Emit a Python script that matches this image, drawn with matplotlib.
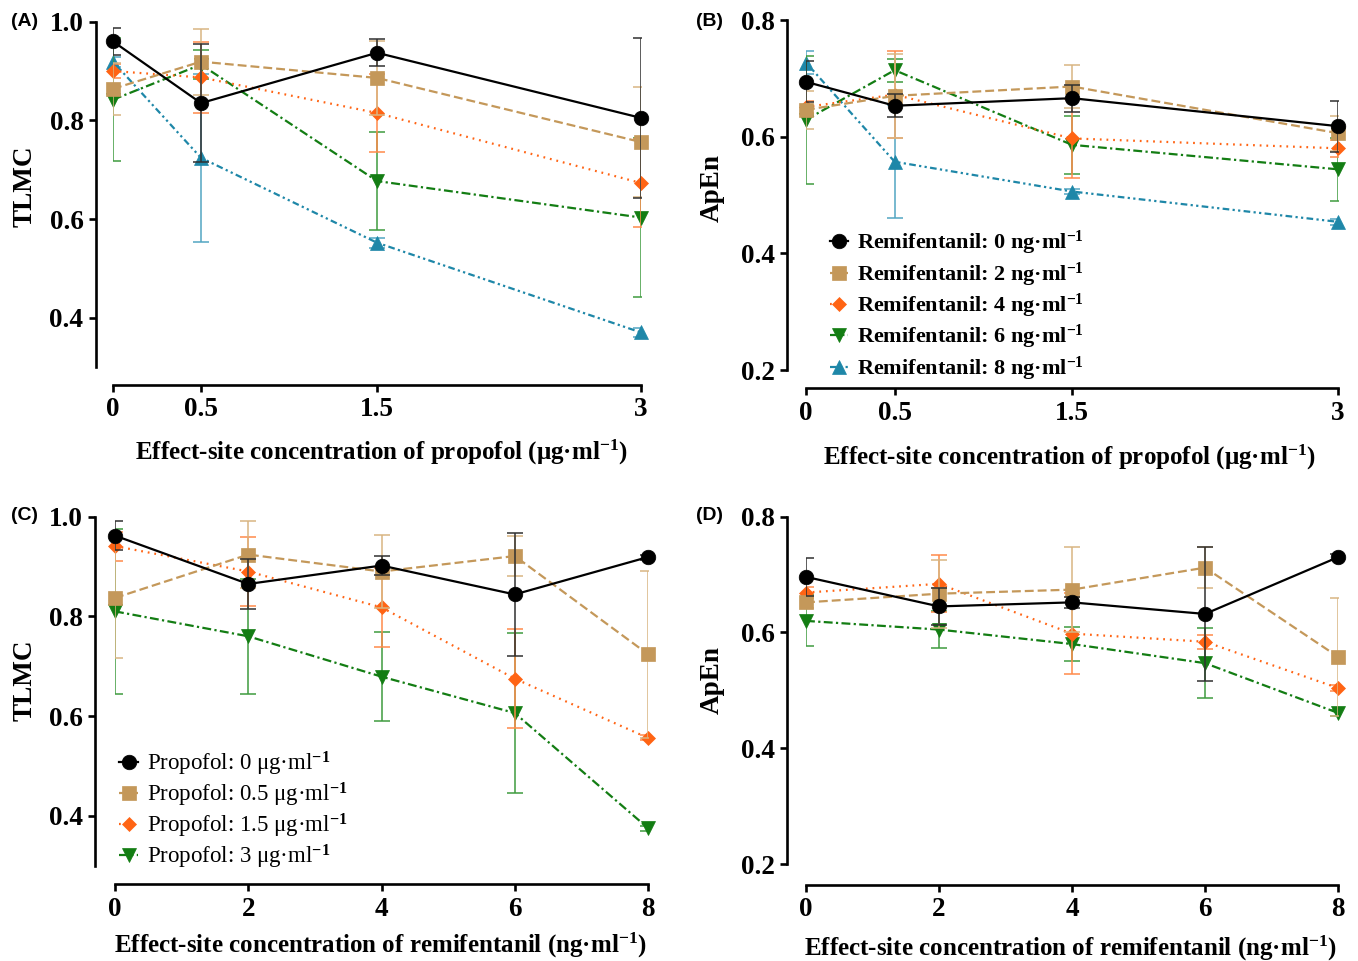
import numpy as np
import matplotlib
matplotlib.use('Agg')
import matplotlib.pyplot as plt

plt.rcParams['font.family'] = ['Liberation Serif', 'DejaVu Serif']
plt.rcParams['font.weight'] = 'bold'
plt.rcParams['mathtext.fontset'] = 'custom'
plt.rcParams['mathtext.rm'] = 'Liberation Serif:bold'
plt.rcParams['mathtext.bf'] = 'Liberation Serif:bold'
plt.rcParams['mathtext.default'] = 'rm'

# x values
propofol = [0, 0.5, 1.5, 3]
remifentanil = [0, 2, 4, 6, 8]

# (A) TLMC vs propofol, one series per remifentanil level
tlmc_r0 = [0.960, 0.835, 0.937, 0.805]
tlmc_r2 = [0.864, 0.919, 0.886, 0.756]
tlmc_r4 = [0.900, 0.887, 0.815, 0.673]
tlmc_r6 = [0.842, 0.913, 0.677, 0.603]
tlmc_r8 = [0.919, 0.724, 0.552, 0.370]
tlmc_r0_sd = [0.027, 0.119, 0.027, 0.162]
tlmc_r2_sd = [0.053, 0.067, 0.075, 0.111]
tlmc_r4_sd = [0.015, 0.072, 0.079, 0.089]
tlmc_r6_sd = [0.125, 0.030, 0.099, 0.162]
tlmc_r8_sd = [0.010, 0.170, 0.010, 0.010]

# (B) ApEn vs propofol
apen_r0 = [0.694, 0.653, 0.666, 0.618]
apen_r2 = [0.646, 0.670, 0.686, 0.606]
apen_r4 = [0.651, 0.672, 0.597, 0.580]
apen_r6 = [0.629, 0.714, 0.586, 0.544]
apen_r8 = [0.727, 0.557, 0.506, 0.454]
apen_r0_sd = [0.035, 0.020, 0.023, 0.044]
apen_r2_sd = [0.032, 0.072, 0.037, 0.030]
apen_r4_sd = [0.010, 0.075, 0.068, 0.015]
apen_r6_sd = [0.110, 0.020, 0.050, 0.054]
apen_r8_sd = [0.020, 0.097, 0.005, 0.005]

# (C) TLMC vs remifentanil, one series per propofol level
tlmc_p0 = [0.962, 0.865, 0.902, 0.844, 0.919]
tlmc_p05 = [0.837, 0.924, 0.890, 0.921, 0.724]
tlmc_p15 = [0.941, 0.890, 0.818, 0.675, 0.556]
tlmc_p3 = [0.810, 0.760, 0.679, 0.606, 0.375]
tlmc_p0_sd = [0.029, 0.051, 0.020, 0.124, 0.005]
tlmc_p05_sd = [0.121, 0.067, 0.074, 0.040, 0.168]
tlmc_p15_sd = [0.029, 0.070, 0.080, 0.099, 0.005]
tlmc_p3_sd = [0.165, 0.115, 0.090, 0.160, 0.005]

# (D) ApEn vs remifentanil
apen_p0 = [0.696, 0.645, 0.652, 0.632, 0.730]
apen_p05 = [0.652, 0.667, 0.674, 0.712, 0.558]
apen_p15 = [0.669, 0.684, 0.598, 0.584, 0.504]
apen_p3 = [0.620, 0.605, 0.580, 0.547, 0.461]
apen_p0_sd = [0.033, 0.032, 0.010, 0.116, 0.005]
apen_p05_sd = [0.010, 0.059, 0.074, 0.036, 0.102]
apen_p15_sd = [0.010, 0.049, 0.070, 0.012, 0.005]
apen_p3_sd = [0.044, 0.032, 0.029, 0.060, 0.005]

remi_labels = ['Remifentanil: 0 ng·ml$^{-1}$', 'Remifentanil: 2 ng·ml$^{-1}$',
               'Remifentanil: 4 ng·ml$^{-1}$', 'Remifentanil: 6 ng·ml$^{-1}$',
               'Remifentanil: 8 ng·ml$^{-1}$']
prop_labels = ['Propofol: 0 μg·ml$^{-1}$', 'Propofol: 0.5 μg·ml$^{-1}$',
               'Propofol: 1.5 μg·ml$^{-1}$', 'Propofol: 3 μg·ml$^{-1}$']

colors = ['#000000', '#C4985A', '#FF6414', '#137D13', '#1E87A8']
err_colors = ['#303030', '#D8B582', '#FF8A4A', '#3F9B3F', '#52A6C2']
markers = ['o', 's', 'D', 'v', '^']
msizes = [10.5, 10.5, 7.2, 10, 10]
styles = ['-', (0, (4, 1.8)), (0, (0.8, 2.2)), (0, (4, 1.5, 1, 1.5)),
          (0, (3, 1.5, 1, 1.5, 1, 1.5))]

W, H = 1358, 961
fig = plt.figure(figsize=(W / 100, H / 100), dpi=100)


def rect(l, t, r, b):
    return [l / W, 1 - b / H, (r - l) / W, (b - t) / H]


def draw(ax, x, means, sds, labels):
    n = len(means)
    for i in reversed(range(n)):
        z = 2 + (n - i) * 2
        ax.errorbar(x, means[i], yerr=sds[i], fmt='none', ecolor=err_colors[i],
                    elinewidth=1.1, capsize=5.5, capthick=1.1, zorder=z)
        ax.plot(x, means[i], color=colors[i], ls=styles[i], lw=1.6,
                marker=markers[i], ms=msizes[i], mec=colors[i], mew=0.5,
                label=labels[i], clip_on=False, zorder=z + 1)


def style(ax, xlim, ylim, xticks, xticklabels, yticks, left_out, bottom_out):
    ax.set_xlim(xlim)
    ax.set_ylim(ylim)
    ax.set_xticks(xticks)
    ax.set_xticklabels(xticklabels)
    ax.set_yticks(yticks)
    ax.set_yticklabels(['%.1f' % t for t in yticks])
    for s in ['top', 'right']:
        ax.spines[s].set_visible(False)
    ax.spines['left'].set_position(('outward', left_out * 0.72))
    ax.spines['bottom'].set_position(('outward', bottom_out * 0.72))
    ax.spines['left'].set_linewidth(1.9)
    ax.spines['bottom'].set_linewidth(1.9)
    ax.tick_params(width=1.9, length=5, labelsize=19.5, pad=4)
    for lab in ax.get_xticklabels() + ax.get_yticklabels():
        lab.set_fontweight('bold')


def labels(ax, xlabel, xpos, ylabel, ypos):
    ax.set_xlabel(xlabel, fontsize=18, fontweight='bold')
    ax.xaxis.set_label_coords(xpos[0] / W, 1 - xpos[1] / H, transform=fig.transFigure)
    ax.xaxis.label.set_va('center')
    ax.set_ylabel(ylabel, fontsize=19.5, fontweight='bold')
    ax.yaxis.set_label_coords(ypos[0] / W, 1 - ypos[1] / H, transform=fig.transFigure)
    ax.yaxis.label.set_va('center')


# (A)
axA = fig.add_axes(rect(113, 21.7, 641, 367))
draw(axA, propofol, [tlmc_r0, tlmc_r2, tlmc_r4, tlmc_r6, tlmc_r8],
     [tlmc_r0_sd, tlmc_r2_sd, tlmc_r4_sd, tlmc_r6_sd, tlmc_r8_sd], remi_labels)
style(axA, (0, 3), (0.3, 1.0), propofol, ['0', '0.5', '1.5', '3'],
      [0.4, 0.6, 0.8, 1.0], 17, 18)
labels(axA, 'Effect-site concentration of propofol (μg·ml$^{-1}$)', (381, 452),
       'TLMC', (25, 186))

# (B)
axB = fig.add_axes(rect(806, 20, 1338, 370))
draw(axB, propofol, [apen_r0, apen_r2, apen_r4, apen_r6, apen_r8],
     [apen_r0_sd, apen_r2_sd, apen_r4_sd, apen_r6_sd, apen_r8_sd], remi_labels)
style(axB, (0, 3), (0.2, 0.8), propofol, ['0', '0.5', '1.5', '3'],
      [0.2, 0.4, 0.6, 0.8], 19, 18)
labels(axB, 'Effect-site concentration of propofol (μg·ml$^{-1}$)', (1069, 457),
       'ApEn', (712, 188))
h, l = axB.get_legend_handles_labels()
axB.legend(h[::-1], l[::-1], loc='upper left', bbox_to_anchor=(819 / W, 1 - 218 / H),
           bbox_transform=fig.transFigure, frameon=False, borderpad=0,
           handlelength=0.8, handletextpad=0.4, labelspacing=0.14, numpoints=1,
           prop={'family': ['Liberation Serif', 'DejaVu Serif'], 'weight': 'bold', 'size': 16})

# (C)
axC = fig.add_axes(rect(115, 516.7, 648, 865.5))
draw(axC, remifentanil, [tlmc_p0, tlmc_p05, tlmc_p15, tlmc_p3],
     [tlmc_p0_sd, tlmc_p05_sd, tlmc_p15_sd, tlmc_p3_sd], prop_labels)
style(axC, (0, 8), (0.3, 1.0), remifentanil, ['0', '2', '4', '6', '8'],
      [0.4, 0.6, 0.8, 1.0], 20, 18.5)
labels(axC, 'Effect-site concentration of remifentanil (ng·ml$^{-1}$)', (380, 945),
       'TLMC', (25, 680))
h, l = axC.get_legend_handles_labels()
axC.legend(h[::-1], l[::-1], loc='upper left', bbox_to_anchor=(108 / W, 1 - 738 / H),
           bbox_transform=fig.transFigure, frameon=False, borderpad=0,
           handlelength=0.8, handletextpad=0.4, labelspacing=0.12, numpoints=1,
           prop={'family': ['Liberation Serif', 'DejaVu Serif'], 'weight': 'normal', 'size': 16.5})

# (D)
axD = fig.add_axes(rect(806, 516.7, 1338, 864))
draw(axD, remifentanil, [apen_p0, apen_p05, apen_p15, apen_p3],
     [apen_p0_sd, apen_p05_sd, apen_p15_sd, apen_p3_sd], prop_labels)
style(axD, (0, 8), (0.2, 0.8), remifentanil, ['0', '2', '4', '6', '8'],
      [0.2, 0.4, 0.6, 0.8], 19, 21)
labels(axD, 'Effect-site concentration of remifentanil (ng·ml$^{-1}$)', (1070, 948),
       'ApEn', (712, 680))

# panel letters
for txt, (px, py) in zip(['(A)', '(B)', '(C)', '(D)'],
                         [(11, 22), (696, 22), (11, 516), (696, 515)]):
    fig.text(px / W, 1 - py / H, txt, fontsize=14, fontweight='bold',
             family=['Liberation Sans', 'DejaVu Sans'], ha='left', va='center')

fig.savefig('out.png', dpi=100)
